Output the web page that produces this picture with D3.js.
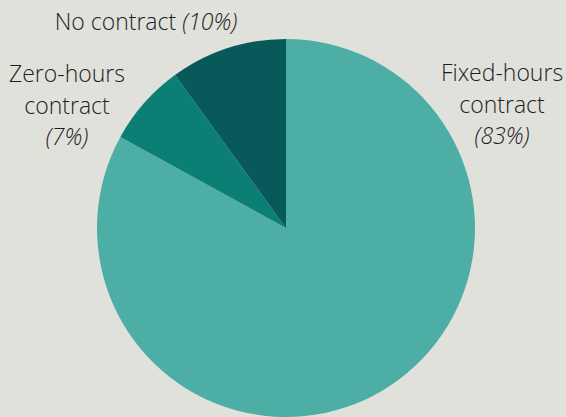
<!DOCTYPE html>
<html>
<head>
<meta charset="utf-8">
<script src="https://cdn.jsdelivr.net/npm/d3@7"></script>
<style>
  html, body { margin: 0; padding: 0; background: #e1e1dc; }
  svg { display: block; }
  text { font-family: "Open Sans", sans-serif; font-weight: 300; fill: #1e1e1e; }
</style>
</head>
<body>
<svg id="chart" width="566" height="417"></svg>
<script>
// Contract types, clockwise from 12 o'clock
const categories = ["Fixed-hours contract", "Zero-hours contract", "No contract"];
const shares = [83, 7, 10];
const colors = ["#4daea5", "#0b7f74", "#08595a"];

// Label text: name lines followed by the italic percentage
const labelLines = [["Fixed-hours", "contract"], ["Zero-hours", "contract"], ["No contract"]];
const pctLabels = ["(83%)", "(7%)", "(10%)"];

const svg = d3.select("#chart");
const cx = 286, cy = 228, radius = 189;

const pie = d3.pie().sort(null).value(d => d.value);
const arc = d3.arc().innerRadius(0).outerRadius(radius);

const data = categories.map((c, i) => ({ name: c, value: shares[i], color: colors[i] }));

const g = svg.append("g").attr("transform", `translate(${cx},${cy})`);
g.selectAll("path")
  .data(pie(data))
  .join("path")
  .attr("d", arc)
  .attr("fill", d => d.data.color);

// Label placement (anchor x, first baseline)
const labelPos = [
  { x: 502, y: 81, inline: false },
  { x: 67, y: 82, inline: false },
  { x: 146, y: 30, inline: true }
];
const lineH = 31.5;
const fs = 23;

labelPos.forEach((p, i) => {
  const t = svg.append("text")
    .attr("x", p.x)
    .attr("y", p.y)
    .attr("text-anchor", "middle")
    .attr("font-size", fs);
  if (p.inline) {
    t.append("tspan").text(labelLines[i][0] + " ");
    t.append("tspan").attr("font-style", "italic").text(pctLabels[i]);
  } else {
    labelLines[i].forEach((line, j) => {
      t.append("tspan").attr("x", p.x).attr("dy", j === 0 ? 0 : lineH).text(line);
    });
    t.append("tspan").attr("x", p.x).attr("dy", lineH)
      .attr("font-style", "italic").text(pctLabels[i]);
  }
});
</script>
</body>
</html>
